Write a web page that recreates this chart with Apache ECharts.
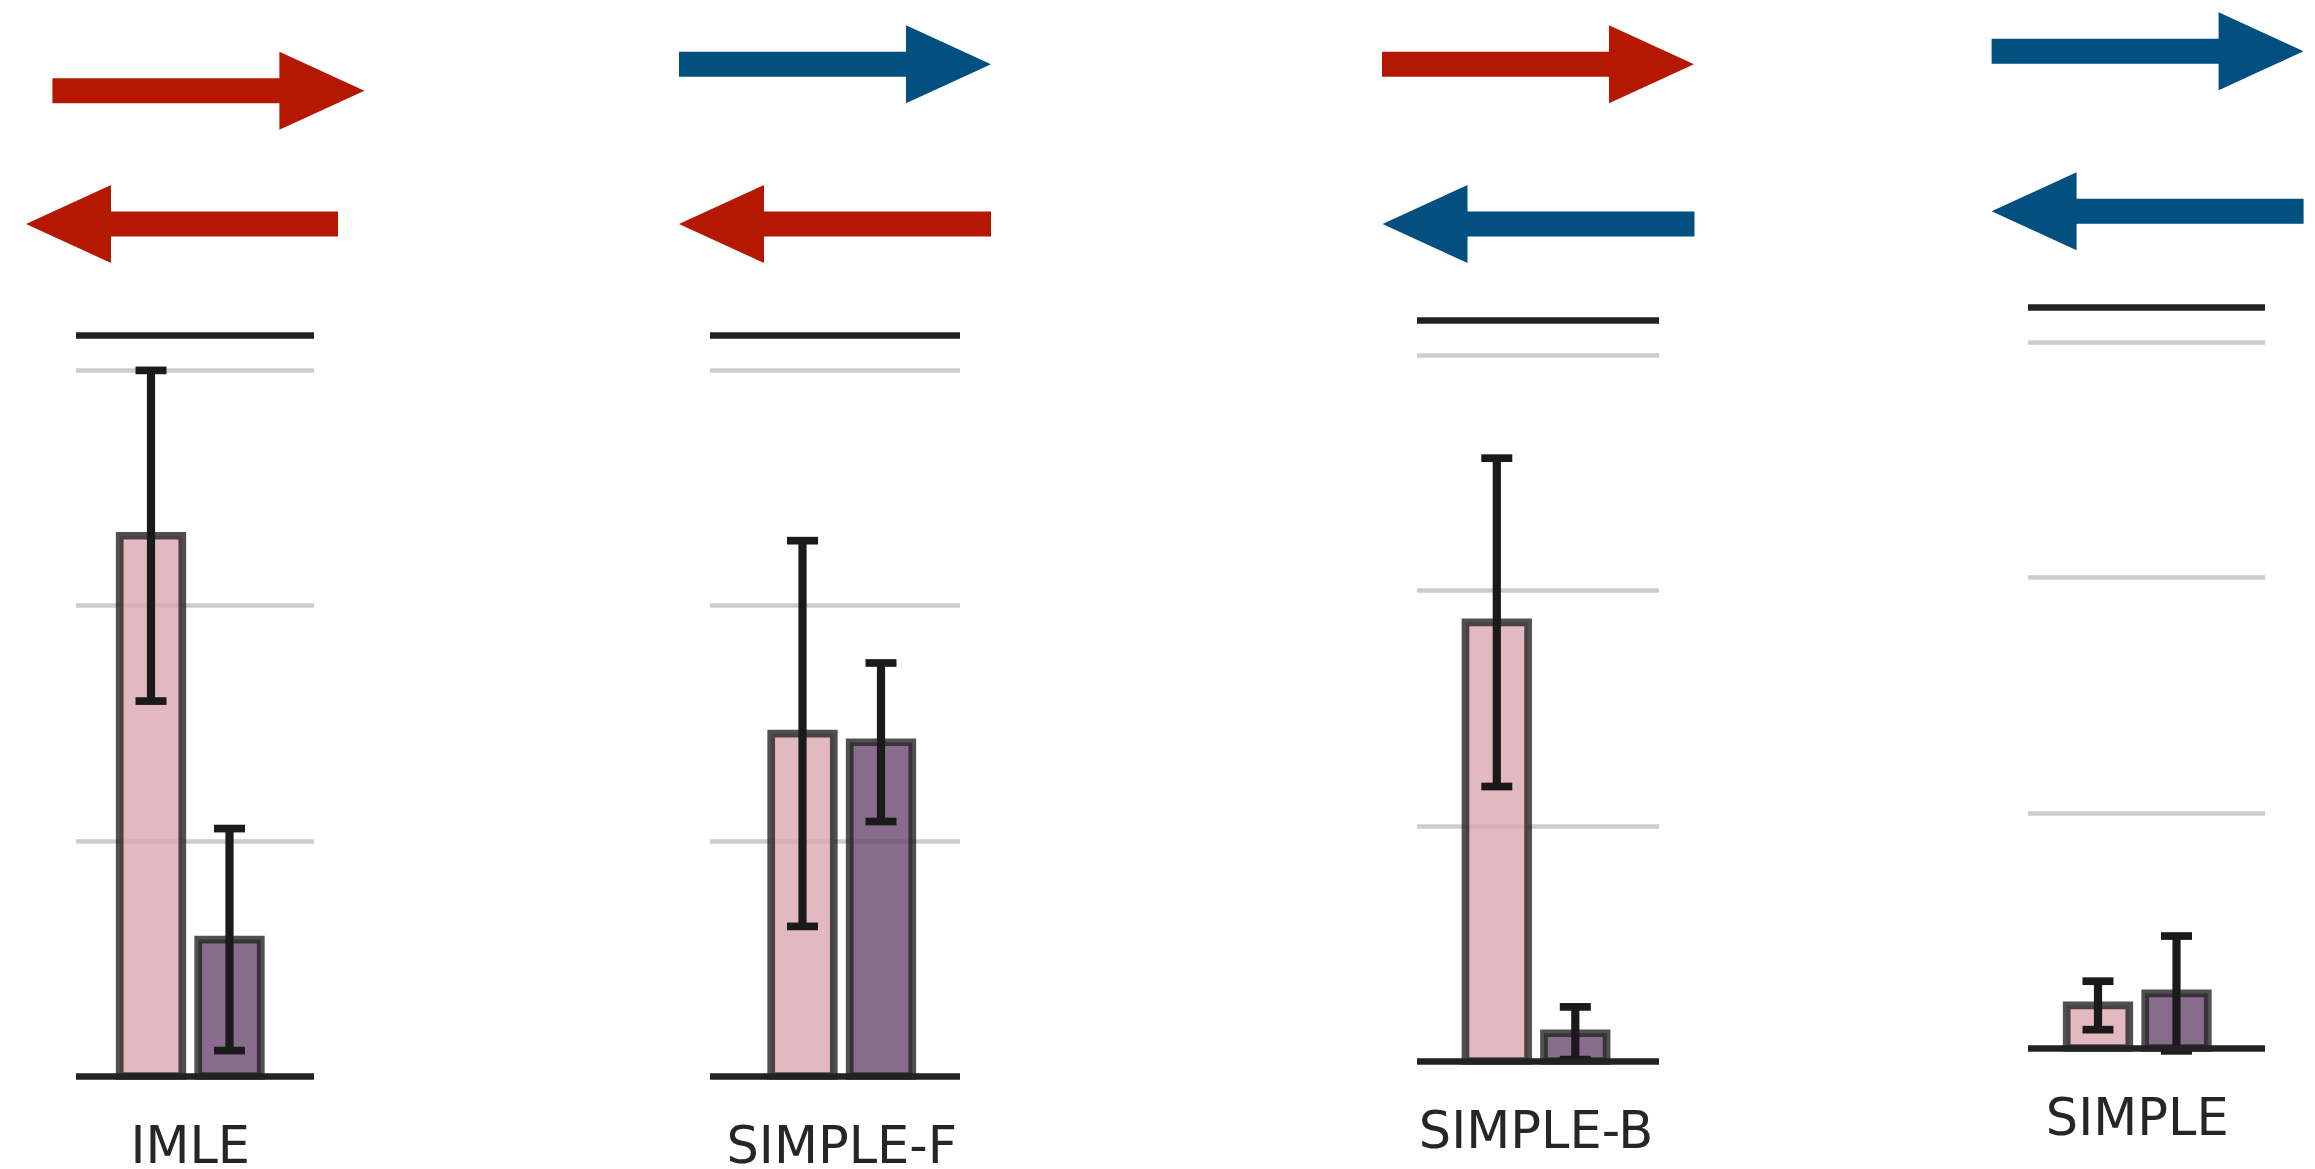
<!DOCTYPE html>
<html>
<head>
<meta charset="utf-8">
<style>
  html, body { margin: 0; padding: 0; background: #fff; }
  #chart { width: 2315px; height: 1169px; }
</style>
<script src="https://cdn.jsdelivr.net/npm/echarts@6.0.0/dist/echarts.min.js"></script>
</head>
<body>
<div id="chart"></div>
<script>
// ---- data (gridline spacing = 1 unit) ----
const methods = ['IMLE', 'SIMPLE-F', 'SIMPLE-B', 'SIMPLE'];
const meanA = [2.297, 1.456, 1.865, 0.181];   // pink bar
const errA  = [0.703, 0.820, 0.698, 0.103];
const meanB = [0.580, 1.419, 0.118, 0.232];   // purple bar
const errB  = [0.472, 0.337, 0.112, 0.244];
const yMax = 3.15;
// arrows above each panel: top one points right, bottom one points left
const arrowTop    = ['red', 'blue', 'red', 'blue'];
const arrowBottom = ['red', 'red', 'blue', 'blue'];

// ---- layout ----
const arrowColor = { red: '#b51800', blue: '#02507f' };
const barColor = ['#dba8b0', '#6b4672'];
const panels = [
    { left: 76,   right: 314,  bar0: 151,    base: 1076, top: [52.4, 90.8],   bottom: [26, 223.9] },
    { left: 710,  right: 960,  bar0: 802.5,  base: 1076, top: [679, 64.2],    bottom: [679, 224] },
    { left: 1417, right: 1659, bar0: 1496.8, base: 1061, top: [1382, 64.2],   bottom: [1382.5, 224] },
    { left: 2028, right: 2265, bar0: 2098,   base: 1048, top: [1991.6, 51.2], bottom: [1991.6, 211.2] }
];
const pitch = 78.5;        // px between the two bars
const plotH = 740.9;       // px for 0..yMax
const barW = 62.6;
const font = 'DejaVu Sans';

let myChart = echarts.init(document.getElementById('chart'), null, { renderer: 'canvas' });

const grid = [], xAxis = [], yAxis = [], series = [], graphic = [];

function arrow (x0, y, dir, color) {
    const L = 312, H = 85, s = 12.5, h = 39;
    let pts;
    if (dir === 'right') {
        pts = [[x0, y - s], [x0 + L - H, y - s], [x0 + L - H, y - h], [x0 + L, y],
               [x0 + L - H, y + h], [x0 + L - H, y + s], [x0, y + s]];
    } else {
        pts = [[x0, y], [x0 + H, y - h], [x0 + H, y - s], [x0 + L, y - s],
               [x0 + L, y + s], [x0 + H, y + s], [x0 + H, y + h]];
    }
    return { type: 'polygon', shape: { points: pts }, style: { fill: color }, silent: true };
}

panels.forEach(function (p, i) {
    const w = p.right - p.left;
    const xmin = -(p.bar0 - p.left) / pitch;
    const xmax = (p.right - p.bar0) / pitch;

    grid.push({ left: p.left, top: p.base - plotH, width: w, height: plotH, outerBoundsMode: 'none' });

    // spines sit above the bars, as in the reference
    xAxis.push({
        type: 'value', gridIndex: i, position: 'bottom', min: xmin, max: xmax, z: 10,
        axisLine: { show: true, onZero: false, lineStyle: { color: '#222', width: 6.7, cap: 'butt' } },
        axisTick: { show: false },
        splitLine: { show: false },
        axisLabel: {
            customValues: [0.5],
            formatter: function () { return methods[i]; },
            margin: 48,
            fontSize: 51,
            fontFamily: font,
            color: '#262626'
        }
    });
    xAxis.push({
        type: 'value', gridIndex: i, position: 'top', min: xmin, max: xmax, z: 10,
        axisLine: { show: true, onZero: false, lineStyle: { color: '#222', width: 6.7, cap: 'butt' } },
        axisTick: { show: false },
        axisLabel: { show: false },
        splitLine: { show: false }
    });
    yAxis.push({
        type: 'value', gridIndex: i, min: 0, max: yMax, interval: 1,
        axisLine: { show: false },
        axisTick: { show: false },
        axisLabel: { show: false },
        splitLine: { lineStyle: { color: '#cccccc', width: 4.7, cap: 'butt' } }
    });

    // bars: outline centred on the bar edge, like the reference
    series.push({
        type: 'custom',
        xAxisIndex: 2 * i,
        yAxisIndex: i,
        z: 3,
        animation: false,
        data: [[0, meanA[i]], [1, meanB[i]]],
        encode: { x: 0, y: 1 },
        renderItem: function (params, api) {
            const t = api.coord([api.value(0), api.value(1)]);
            const b = api.coord([api.value(0), 0]);
            return {
                type: 'rect',
                shape: { x: t[0] - barW / 2, y: t[1], width: barW, height: b[1] - t[1] },
                style: {
                    fill: barColor[params.dataIndex],
                    stroke: '#242424',
                    lineWidth: 7.7,
                    opacity: 0.8
                }
            };
        }
    });

    // error bars
    series.push({
        type: 'custom',
        xAxisIndex: 2 * i,
        yAxisIndex: i,
        z: 5,
        animation: false,
        data: [
            [0, meanA[i] - errA[i], meanA[i] + errA[i]],
            [1, meanB[i] - errB[i], meanB[i] + errB[i]]
        ],
        encode: { x: 0, y: [1, 2] },
        renderItem: function (params, api) {
            const lo = api.coord([api.value(0), api.value(1)]);
            const hi = api.coord([api.value(0), api.value(2)]);
            const cw = 15.5;
            const st = { stroke: '#1a1a1a', lineWidth: 7.7 };
            return {
                type: 'group',
                children: [
                    { type: 'line', shape: { x1: lo[0], y1: lo[1], x2: hi[0], y2: hi[1] }, style: { stroke: '#1a1a1a', lineWidth: 8.2 } },
                    { type: 'line', shape: { x1: hi[0] - cw, y1: hi[1], x2: hi[0] + cw, y2: hi[1] }, style: st },
                    { type: 'line', shape: { x1: lo[0] - cw, y1: lo[1], x2: lo[0] + cw, y2: lo[1] }, style: st }
                ]
            };
        }
    });

    graphic.push(arrow(p.top[0], p.top[1], 'right', arrowColor[arrowTop[i]]));
    graphic.push(arrow(p.bottom[0], p.bottom[1], 'left', arrowColor[arrowBottom[i]]));
});

const option = {
    backgroundColor: '#ffffff',
    animation: false,
    grid: grid,
    xAxis: xAxis,
    yAxis: yAxis,
    series: series,
    graphic: graphic
};

option && myChart.setOption(option);
</script>
</body>
</html>
